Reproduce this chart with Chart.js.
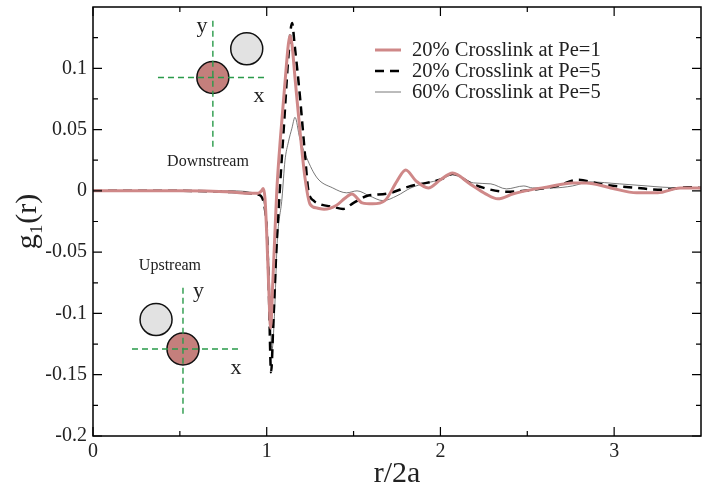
<!DOCTYPE html>
<html>
<head>
<meta charset="utf-8">
<script src="https://cdn.jsdelivr.net/npm/chart.js@4.4.1/dist/chart.umd.min.js"></script>
<style>
  html, body { margin: 0; padding: 0; background: #fff; }
  .chart-box { width: 713px; height: 493px; }
</style>
</head>
<body>
<div class="chart-box"><canvas class="chart-g1"></canvas></div>
<script>
// values: r/2a and g1(r) per curve
const pe1Label = '20% Crosslink at Pe=1';
const pe1R = [0, 0.5, 0.8, 0.9, 0.95, 0.97, 0.98, 0.99, 1.0, 1.012, 1.022, 1.035, 1.047, 1.058, 1.08, 1.105, 1.125, 1.134, 1.145, 1.163, 1.19, 1.22, 1.25, 1.29, 1.33, 1.40, 1.45, 1.49, 1.55, 1.61, 1.68, 1.75, 1.80, 1.86, 1.93, 2.0, 2.07, 2.17, 2.26, 2.33, 2.42, 2.52, 2.61, 2.76, 2.84, 2.98, 3.13, 3.25, 3.38, 3.5];
const pe1G = [0, 0, -0.001, -0.002, -0.002, 0.0, 0.002, -0.006, -0.035, -0.08, -0.112, -0.075, -0.035, 0.0, 0.045, 0.088, 0.12, 0.1265, 0.12, 0.092, 0.051, 0.011, -0.011, -0.014, -0.015, -0.012, -0.006, -0.0025, -0.0098, -0.0106, -0.008, 0.008, 0.017, 0.008, 0.0024, 0.009, 0.0145, 0.0057, -0.0024, -0.0065, -0.0024, 0.0008, 0.003, 0.0065, 0.0065, 0.0024, -0.0016, -0.0016, 0.0024, 0.0024];

const pe5Label = '20% Crosslink at Pe=5';
const pe5R = [0, 0.5, 0.8, 0.9, 0.95, 0.975, 0.99, 1.0, 1.012, 1.025, 1.04, 1.055, 1.075, 1.1, 1.125, 1.146, 1.16, 1.19, 1.22, 1.24, 1.27, 1.31, 1.38, 1.44, 1.50, 1.58, 1.69, 1.83, 1.92, 2.01, 2.07, 2.17, 2.25, 2.38, 2.53, 2.67, 2.79, 2.94, 3.13, 3.28, 3.42, 3.5];
const pe5G = [0, 0, -0.001, -0.002, -0.003, -0.006, -0.015, -0.03, -0.08, -0.148, -0.1, -0.05, 0.0, 0.055, 0.11, 0.137, 0.12, 0.079, 0.03, 0.0, -0.008, -0.011, -0.013, -0.0147, -0.0098, -0.004, -0.0024, 0.004, 0.0065, 0.0098, 0.014, 0.0065, 0.0024, -0.0008, 0.0008, 0.004, 0.009, 0.005, 0.0024, 0.0008, 0.003, 0.0024];

const x60Label = '60% Crosslink at Pe=5';
const x60R = [0, 0.5, 0.8, 0.9, 0.95, 0.98, 1.0, 1.015, 1.03, 1.045, 1.06, 1.088, 1.105, 1.125, 1.145, 1.163, 1.19, 1.23, 1.29, 1.38, 1.46, 1.52, 1.59, 1.67, 1.75, 1.83, 1.92, 2.0, 2.07, 2.19, 2.29, 2.38, 2.48, 2.53, 2.65, 2.76, 2.86, 3.03, 3.19, 3.28, 3.42, 3.5];
const x60G = [0, 0, 0, -0.001, -0.003, -0.008, -0.025, -0.07, -0.13, -0.1, -0.043, -0.006, 0.0245, 0.04, 0.051, 0.06, 0.043, 0.027, 0.0106, 0.0024, -0.0016, 0.0, -0.004, -0.008, -0.004, 0.0024, 0.0065, 0.009, 0.013, 0.0065, 0.0057, 0.0016, 0.004, 0.0024, 0.0024, 0.004, 0.0073, 0.0057, 0.004, 0.003, 0.0024, 0.0024];

const xTicks = [0, 1, 2, 3];
const xMinorTicks = [0.5, 1.5, 2.5];
const yTicks = [-0.2, -0.15, -0.1, -0.05, 0, 0.05, 0.1];
const yMinorTicks = [-0.175, -0.125, -0.075, -0.025, 0.025, 0.075, 0.125];

const serif = 'Liberation Serif';

function toPoints(rs, gs) {
    return rs.map((r, i) => ({ x: r, y: gs[i] }));
}

// frame with inward ticks on all four sides
const framePlugin = {
    id: 'frame',
    afterDraw(chart) {
        const ctx = chart.ctx;
        const a = chart.chartArea;
        const xs = chart.scales.x;
        const ys = chart.scales.y;
        ctx.save();
        ctx.strokeStyle = '#000';
        ctx.lineWidth = 1.5;
        ctx.strokeRect(a.left, a.top, a.right - a.left, a.bottom - a.top);
        ctx.lineWidth = 1.2;
        function xTick(v, len) {
            const px = xs.getPixelForValue(v);
            ctx.beginPath();
            ctx.moveTo(px, a.bottom); ctx.lineTo(px, a.bottom - len);
            ctx.moveTo(px, a.top); ctx.lineTo(px, a.top + len);
            ctx.stroke();
        }
        function yTick(v, len) {
            const py = ys.getPixelForValue(v);
            ctx.beginPath();
            ctx.moveTo(a.left, py); ctx.lineTo(a.left + len, py);
            ctx.moveTo(a.right, py); ctx.lineTo(a.right - len, py);
            ctx.stroke();
        }
        xTicks.forEach(v => xTick(v, 9));
        xMinorTicks.forEach(v => xTick(v, 5));
        yTicks.forEach(v => yTick(v, 9));
        yMinorTicks.forEach(v => yTick(v, 5));
        ctx.restore();
    }
};

// the two little particle sketches, placed in data units
const insets = [
    { label: 'Downstream', labelAt: [0.662, 0.0237], center: [0.69, 0.0925], other: [0.885, 0.1159],
      vLine: [0.1387, 0.0343], hLine: [0.374, 0.99], yAt: [0.628, 0.1346], xAt: [0.955, 0.0775] },
    { label: 'Upstream', labelAt: [0.443, -0.0612], center: [0.518, -0.129], other: [0.363, -0.105],
      vLine: [-0.079, -0.1836], hLine: [0.2245, 0.846], yAt: [0.607, -0.0816], xAt: [0.823, -0.1444] }
];

const insetPlugin = {
    id: 'insets',
    afterDatasetsDraw(chart) {
        const ctx = chart.ctx;
        const xs = chart.scales.x;
        const ys = chart.scales.y;
        const X = v => xs.getPixelForValue(v);
        const Y = v => ys.getPixelForValue(v);
        ctx.save();
        insets.forEach(s => {
            const cx = X(s.center[0]);
            const cy = Y(s.center[1]);
            // gray neighbour
            ctx.beginPath();
            ctx.arc(X(s.other[0]), Y(s.other[1]), 16, 0, Math.PI * 2);
            ctx.fillStyle = '#e2e2e2';
            ctx.fill();
            ctx.lineWidth = 1.5;
            ctx.strokeStyle = '#111';
            ctx.stroke();
            // reference particle
            ctx.beginPath();
            ctx.arc(cx, cy, 16, 0, Math.PI * 2);
            ctx.fillStyle = '#c47f7c';
            ctx.fill();
            ctx.stroke();
            // dashed axes
            ctx.setLineDash([6, 4]);
            ctx.strokeStyle = '#2a9a4a';
            ctx.lineWidth = 1.4;
            ctx.beginPath();
            ctx.moveTo(cx, Y(s.vLine[0])); ctx.lineTo(cx, Y(s.vLine[1]));
            ctx.moveTo(X(s.hLine[0]), cy); ctx.lineTo(X(s.hLine[1]), cy);
            ctx.stroke();
            ctx.setLineDash([]);
            ctx.fillStyle = '#222';
            ctx.textAlign = 'center';
            ctx.textBaseline = 'middle';
            ctx.font = '22px "' + serif + '"';
            ctx.fillText('y', X(s.yAt[0]), Y(s.yAt[1]));
            ctx.fillText('x', X(s.xAt[0]), Y(s.xAt[1]));
            ctx.font = '16px "' + serif + '"';
            ctx.fillText(s.label, X(s.labelAt[0]), Y(s.labelAt[1]));
        });
        ctx.restore();
    }
};

// legend drawn inside the plot, top right
const legendPlugin = {
    id: 'innerLegend',
    afterDatasetsDraw(chart) {
        const ctx = chart.ctx;
        const a = chart.chartArea;
        ctx.save();
        ctx.font = '20.5px "' + serif + '"';
        ctx.textBaseline = 'middle';
        ctx.textAlign = 'left';
        chart.data.datasets.forEach((ds, i) => {
            const y = a.top + 43 + i * 21;
            const x0 = a.left + 282;
            ctx.beginPath();
            ctx.setLineDash(ds.borderDash || []);
            ctx.strokeStyle = ds.borderColor;
            ctx.lineWidth = ds.borderWidth;
            ctx.moveTo(x0, y);
            ctx.lineTo(x0 + 26, y);
            ctx.stroke();
            ctx.setLineDash([]);
            ctx.fillStyle = '#222';
            ctx.fillText(ds.label, x0 + 37, y + 1);
        });
        ctx.restore();
    }
};

const chartG1 = document.querySelector('.chart-g1');

createChart(chartG1);

function createChart(canvasElement) {
    new Chart(canvasElement, {
        type: 'line',
        data: {
            datasets: [{
                label: pe1Label,
                data: toPoints(pe1R, pe1G),
                borderColor: '#cf8888',
                borderWidth: 3,
                pointRadius: 0,
                cubicInterpolationMode: 'monotone'
            }, {
                label: pe5Label,
                data: toPoints(pe5R, pe5G),
                borderColor: '#000',
                borderWidth: 2.5,
                borderDash: [9, 6],
                pointRadius: 0,
                cubicInterpolationMode: 'monotone'
            }, {
                label: x60Label,
                data: toPoints(x60R, x60G),
                borderColor: '#555',
                borderWidth: 0.8,
                pointRadius: 0,
                cubicInterpolationMode: 'monotone'
            }]
        },
        options: {
            responsive: true,
            maintainAspectRatio: false,
            animation: false,
            layout: { padding: { top: 7, right: 12, left: 0, bottom: 0 } },
            plugins: {
                legend: { display: false },
                tooltip: { enabled: false }
            },
            scales: {
                x: {
                    type: 'linear',
                    min: 0,
                    max: 3.5,
                    grid: { display: false, drawTicks: false },
                    border: { display: false },
                    afterBuildTicks: scale => { scale.ticks = xTicks.map(v => ({ value: v })); },
                    afterFit: scale => {
                        scale.height = 57;
                        scale.paddingLeft = 0;
                        scale.paddingRight = 0;
                    },
                    ticks: {
                        padding: 4,
                        color: '#222',
                        font: { family: serif, size: 20 },
                        callback: value => String(value)
                    },
                    title: {
                        display: true,
                        text: 'r/2a',
                        color: '#222',
                        font: { family: serif, size: 30 },
                        padding: { top: 0, bottom: 1 }
                    }
                },
                y: {
                    type: 'linear',
                    min: -0.2,
                    max: 0.15,
                    grid: { display: false, drawTicks: false },
                    border: { display: false },
                    afterBuildTicks: scale => { scale.ticks = yTicks.map(v => ({ value: v })); },
                    afterFit: scale => {
                        scale.width = 93;
                        scale.paddingTop = 0;
                        scale.paddingBottom = 0;
                    },
                    ticks: {
                        padding: 6,
                        color: '#222',
                        font: { family: serif, size: 20 },
                        callback: value => String(+value.toFixed(3))
                    },
                    title: {
                        display: true,
                        text: 'g\u2081(r)',
                        color: '#222',
                        font: { family: serif, size: 30 },
                        padding: { top: 10, bottom: 0 }
                    }
                }
            }
        },
        plugins: [framePlugin, insetPlugin, legendPlugin]
    });
}
</script>
</body>
</html>
